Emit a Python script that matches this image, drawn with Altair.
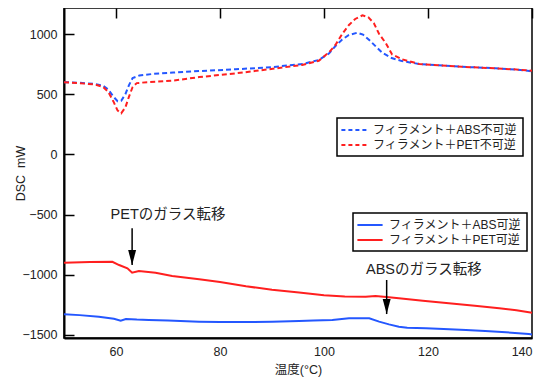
import altair as alt
import pandas as pd

FONT = "Liberation Sans, Noto Sans CJK JP"
BLUE = "#2457ff"
RED = "#ff1f1f"

# ---- data ----
dash_names = ["フィラメント＋ABS不可逆", "フィラメント＋PET不可逆"]
solid_names = ["フィラメント＋ABS可逆", "フィラメント＋PET可逆"]

abs_irr_x = [50, 53, 56, 57.5, 58.5, 59.5, 60.3, 61.0, 61.8, 62.5, 63.2, 64.5, 67, 71, 76, 83, 90, 96, 99,
             101, 102.2, 103.5, 104.8, 106.4, 107.5, 108.7, 110, 111.2, 113, 115, 118.3, 122, 126.5, 133, 137, 140]
abs_irr_y = [600, 595, 585, 570, 540, 480, 442, 445, 500, 575, 635, 655, 668, 680, 692, 707, 725, 752, 784,
             840, 900, 955, 992, 1011, 995, 950, 895, 845, 800, 775, 751, 740, 728, 715, 705, 690]

pet_irr_x = [50, 53, 56, 57.5, 58.5, 59.5, 60.3, 61.0, 61.8, 62.5, 63.2, 64.0, 66, 70.8, 76, 83, 89.4, 95.8, 99,
             101, 102.2, 103.5, 104.8, 106, 107.4, 108.5, 109.6, 110.6, 111.9, 113.1, 115, 118.3, 122, 126.5, 133, 137, 140]
pet_irr_y = [600, 592, 580, 560, 520, 440, 365, 342, 390, 480, 560, 592, 600, 612, 642, 673, 707, 743, 778,
             850, 909, 1000, 1075, 1125, 1155, 1140, 1089, 1000, 923, 830, 790, 751, 740, 728, 715, 705, 695]

abs_rev_x = [50, 53, 56.7, 59.6, 60.9, 61.9, 64, 66.3, 70, 76, 80, 85, 90, 95.2, 98, 101.6, 104.8, 108.7,
             110.6, 112.5, 114.4, 116, 119.6, 123, 127.3, 131, 135, 139.4, 140]
abs_rev_y = [-1328, -1335, -1348, -1365, -1381, -1367, -1372, -1375, -1380, -1389, -1392, -1392, -1390, -1384,
             -1380, -1375, -1361, -1361, -1389, -1412, -1431, -1440, -1444, -1450, -1458, -1467, -1477, -1492, -1495]

pet_rev_x = [50, 55, 59.3, 60.6, 62.2, 63.1, 64.4, 67.6, 70.8, 76, 80, 85, 90, 95.2, 100, 104, 108, 109.9,
             112, 114.4, 119, 124, 129, 133.7, 137, 140]
pet_rev_y = [-900, -893, -892, -919, -946, -983, -968, -983, -1010, -1037, -1060, -1095, -1125, -1148, -1170,
             -1180, -1182, -1176, -1185, -1195, -1215, -1237, -1257, -1278, -1295, -1315]

x_ticks = [60, 80, 100, 120, 140]
y_ticks = [-1500, -1000, -500, 0, 500, 1000]

ann_text = ["PETのガラス転移", "ABSのガラス転移"]
ann_text_x = [70.0, 119.2]
ann_text_y = [-503, -960]
arrow_x = [63.1, 112.05]
arrow_top = [-614, -1043]
arrow_tip = [-919, -1326]

# ---- tables ----
def series(xs, ys, name):
    return pd.DataFrame({"t": xs, "v": ys, "s": name})

df_dash = pd.concat([series(abs_irr_x, abs_irr_y, dash_names[0]),
                     series(pet_irr_x, pet_irr_y, dash_names[1])])
df_solid = pd.concat([series(abs_rev_x, abs_rev_y, solid_names[0]),
                      series(pet_rev_x, pet_rev_y, solid_names[1])])
df_ann = pd.DataFrame({"label": ann_text, "tx": ann_text_x, "ty": ann_text_y,
                       "ax": arrow_x, "a1": arrow_top, "a2": arrow_tip})

xs = alt.Scale(domain=[50, 140], nice=False, zero=False)
ys = alt.Scale(domain=[-1525, 1216], nice=False, zero=False)

# inward ticks are drawn as grid lines whose first dash is 10px long
axis_common = dict(ticks=False, grid=True, gridDash=[10, 3000], gridColor="black", gridWidth=1.5,
                   gridOpacity=1, labelPadding=7, format="d", domainColor="black", domainWidth=2,
                   labelFontSize=12.5, titleFontSize=12.5, labelFont=FONT, titleFont=FONT,
                   labelColor="#222", titleColor="#222", titleFontWeight="normal")
main_x_axis = alt.Axis(orient="bottom", values=x_ticks, title="温度(°C)", titlePadding=6, **axis_common)
main_y_axis = alt.Axis(orient="left", values=y_ticks, title="DSC\u00a0\u00a0mW", titleX=-37, **axis_common)

LINE_SYMBOL = "M -2.1 0 L 2.1 0"
legend_common = dict(title=None, orient="none", strokeColor="black", fillColor="white",
                     padding=5, labelFontSize=12, labelFont=FONT, labelColor="#222",
                     symbolType=LINE_SYMBOL, symbolSize=144, symbolOffset=5,
                     symbolStrokeWidth=2, rowPadding=2, labelOffset=12)

dashed = alt.Chart(df_dash).mark_line(strokeDash=[5, 3], strokeWidth=2).encode(
    x=alt.X("t:Q", scale=xs, axis=main_x_axis),
    y=alt.Y("v:Q", scale=ys, axis=main_y_axis),
    color=alt.Color("s:N", scale=alt.Scale(domain=dash_names, range=[BLUE, RED]),
                    legend=alt.Legend(legendX=273, legendY=110, symbolDash=[4, 3], **legend_common)),
)

solid = alt.Chart(df_solid).mark_line(strokeWidth=2).encode(
    x=alt.X("t:Q", scale=xs),
    y=alt.Y("v:Q", scale=ys),
    color=alt.Color("s:N", scale=alt.Scale(domain=solid_names, range=[BLUE, RED]),
                    legend=alt.Legend(legendX=289, legendY=205, **legend_common)),
)

shaft = alt.Chart(df_ann).mark_rule(color="black", strokeWidth=1.5).encode(
    x=alt.X("ax:Q", scale=xs),
    y=alt.Y("a1:Q", scale=ys),
    y2="a2:Q",
)
head = alt.Chart(df_ann).mark_point(shape="M -0.53 -1 L 0.53 -1 L 0 1 Z", filled=True, size=225,
                                    color="black", opacity=1, yOffset=-7.5).encode(
    x=alt.X("ax:Q", scale=xs),
    y=alt.Y("a2:Q", scale=ys),
)
labels = alt.Chart(df_ann).mark_text(font=FONT, fontSize=14.5, color="#222", align="center",
                                     baseline="middle").encode(
    x=alt.X("tx:Q", scale=xs),
    y=alt.Y("ty:Q", scale=ys),
    text="label:N",
)

chart = alt.layer(dashed, solid, shaft, head, labels).resolve_scale(
    color="independent"
).properties(
    width=468, height=330,
    autosize=alt.AutoSizeParams(type="none"),
    padding={"left": 56, "top": 0, "right": 8, "bottom": 43},
).configure_view(stroke="black", strokeWidth=1.5).configure_legend(strokeWidth=1.5)

chart.save("out.html", embed_options={"renderer": "svg", "actions": False})
